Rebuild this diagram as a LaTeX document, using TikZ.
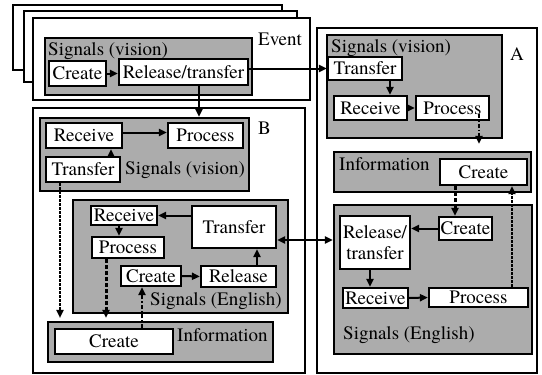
\documentclass[tikz,border=0pt]{standalone}
\usepackage{fontspec}
\setmainfont{texgyretermes}[Extension=.otf, UprightFont=*-regular, BoldFont=*-bold, ItalicFont=*-italic, BoldItalicFont=*-bolditalic]
\usetikzlibrary{arrows.meta,calc}
\definecolor{boxgray}{RGB}{172,172,172}
\begin{document}
\begin{tikzpicture}[x=1pt,y=-1pt,
  every node/.style={font=\fontsize{19}{21}\selectfont, inner sep=0pt},
  framebox/.style={draw, fill=white, line width=1.6pt, rectangle},
  graybox/.style={draw, fill=boxgray, line width=2.1pt, rectangle},
  wbox/.style={draw, fill=white, line width=2.2pt, rectangle, align=center},
  lbl/.style={anchor=base west},
  arr/.style={line width=2pt, -{Triangle[length=8pt,width=7pt]}},
  dashdot/.style={arr, dash pattern=on 4pt off 2pt on 1.5pt off 2pt},
  thickdash/.style={arr, line width=3pt, dash pattern=on 4pt off 2pt},
  finedash/.style={arr, line width=1.8pt, dash pattern=on 2.5pt off 1.5pt},
  biarr/.style={line width=2pt, {Triangle[length=8pt,width=7pt]}-{Triangle[length=8pt,width=7pt]}}
]
\useasboundingbox (0,0) rectangle (542,375);

% event frames
\node[framebox, minimum width=269pt, minimum height=65pt] (E1) at (147.5,37.5) {};
\node[framebox, minimum width=273pt, minimum height=71pt] (E2) at (160.5,46.5) {};
\node[framebox, minimum width=277pt, minimum height=82pt] (E3) at (171.5,59) {};
\node[lbl] (evt) at (258,45) {Event};

% frame B and A
\node[framebox, minimum width=272pt, minimum height=265pt] (FB) at (169,240.5) {};
\node[lbl] (lblB) at (258,134) {B};
\node[framebox, minimum width=220pt, minimum height=345pt] (FA) at (427,200.5) {};
\node[lbl] (lblA) at (510,60) {A};

% top signals (vision)
\node[graybox, minimum width=207pt, minimum height=57pt] (SV1) at (148.5,66.5) {};
\node[lbl] (SV1l) at (48,55) {Signals (vision)};
\node[wbox, minimum width=57pt, minimum height=25pt] (Cr1) at (77.5,73.5) {Create};
\node[wbox, minimum width=129pt, minimum height=26pt] (RT1) at (183.5,72) {Release/transfer};

% A: signals (vision)
\node[graybox, minimum width=175pt, minimum height=103pt] (SVA) at (414.5,86.5) {};
\node[lbl] (SVAl) at (331,52) {Signals (vision)};
\node[wbox, minimum width=74pt, minimum height=23pt] (TrA) at (365,68.5) {Transfer};
\node[wbox, minimum width=73pt, minimum height=24pt] (RcA) at (370.5,108) {Receive};
\node[wbox, minimum width=73pt, minimum height=24pt] (PrA) at (452.5,108) {Process};

% A: information
\node[graybox, minimum width=197pt, minimum height=40pt] (InA) at (432.5,172) {};
\node[lbl] (InAl) at (339,170) {Information};
\node[wbox, minimum width=87pt, minimum height=26pt] (CrA) at (483.5,172) {Create};

% A: signals (English)
\node[graybox, minimum width=198pt, minimum height=149pt] (SEA) at (433,279.5) {};
\node[lbl] (SEAl) at (343,339) {Signals (English)};
\node[wbox, minimum width=53pt, minimum height=23pt] (CrA2) at (465.5,228.5) {Create};
\node[wbox, minimum width=70pt, minimum height=53pt] (RTA) at (375,242.5) {Release/\\transfer};
\node[wbox, minimum width=65pt, minimum height=20pt] (RcA2) at (375.5,298) {Receive};
\node[wbox, minimum width=99pt, minimum height=19pt] (PrA2) at (478.5,297.5) {Process};

% B: signals (vision)
\node[graybox, minimum width=209pt, minimum height=73pt] (SVB) at (144.5,154.5) {};
\node[lbl] (SVBl) at (125,174) {Signals (vision)};
\node[wbox, minimum width=76pt, minimum height=25pt] (RcB) at (84,135.5) {Receive};
\node[wbox, minimum width=75pt, minimum height=25pt] (PrB) at (205.5,135.5) {Process};
\node[wbox, minimum width=74pt, minimum height=25pt] (TrB) at (83,169.5) {Transfer};

% B: signals (English)
\node[graybox, minimum width=215pt, minimum height=113pt] (SEB) at (180.5,256.5) {};
\node[lbl] (SEBl) at (150,305) {Signals (English)};
\node[wbox, minimum width=66pt, minimum height=19pt] (RcB2) at (124,215.5) {Receive};
\node[wbox, minimum width=72pt, minimum height=21pt] (PrB2) at (128,247.5) {Process};
\node[wbox, minimum width=84pt, minimum height=42pt] (TrB2) at (234,227) {Transfer};
\node[wbox, minimum width=60pt, minimum height=20pt] (CrB2) at (151,276) {Create};
\node[wbox, minimum width=75pt, minimum height=21pt] (RlB2) at (238.5,276.5) {Release};

% B: information
\node[graybox, minimum width=225pt, minimum height=40pt] (InB) at (160.5,342) {};
\node[lbl] (InBl) at (177,341) {Information};
\node[wbox, minimum width=118pt, minimum height=25pt] (CrB3) at (114,341.5) {Create};

% connectors: top
\draw[arr] (Cr1.east) -- (RT1.west |- Cr1.east);
\draw[arr] ([xshift=15.5pt]RT1.south) -- ([xshift=15.5pt]RT1.south |- SVB.north);
\draw[arr] (RT1.east |- TrA.west) -- (TrA.west);

% connectors: A
\draw[arr] ([xshift=25pt]TrA.south) -- ([xshift=25pt]TrA.south |- RcA.north);
\draw[arr] (RcA.east) -- (PrA.west);
\draw[dashdot] ([xshift=26.5pt,yshift=7pt]PrA.south) -- ([xshift=26.5pt,yshift=7pt]PrA.south |- InA.north);
\draw[thickdash] ([xshift=-28.5pt]CrA.south) -- ([xshift=-28.5pt]CrA.south |- CrA2.north);
\draw[finedash] ([xshift=33.5pt]PrA2.north) -- ([xshift=33.5pt]PrA2.north |- CrA.south);
\draw[arr] (CrA2.west) -- (RTA.east |- CrA2.west);
\draw[arr] ([xshift=-5pt]RTA.south) -- ([xshift=-5pt]RTA.south |- RcA2.north);
\draw[arr] (RcA2.east) -- (PrA2.west);

% connector between B and A
\draw[biarr] ([yshift=-13pt]TrB2.east) -- ([yshift=-13pt]TrB2.east -| SEA.west);

% connectors: B
\draw[arr] ([xshift=28pt]TrB.north) -- ([xshift=28pt]TrB.north |- RcB.south);
\draw[arr] ([yshift=3pt]RcB.east) -- ([yshift=3pt]PrB.west);
\draw[finedash, shorten >=3pt] ([xshift=-23pt]TrB.south) -- ([xshift=-23pt]TrB.south |- InB.north);
\draw[arr] (TrB2.west |- RcB2.east) -- (RcB2.east);
\draw[arr] ([xshift=-5pt]RcB2.south) -- ([xshift=-5pt]RcB2.south |- PrB2.north);
\draw[thickdash, shorten >=3pt] ([xshift=-22pt]PrB2.south) -- ([xshift=-22pt]PrB2.south |- InB.north);
\draw[dashdot] ([xshift=28pt]CrB3.north) -- ([xshift=28pt]CrB3.north |- CrB2.south);
\draw[arr] (CrB2.east) -- (RlB2.west);
\draw[arr] ([xshift=18.5pt]RlB2.north) -- ([xshift=18.5pt]RlB2.north |- TrB2.south);
\end{tikzpicture}
\end{document}
